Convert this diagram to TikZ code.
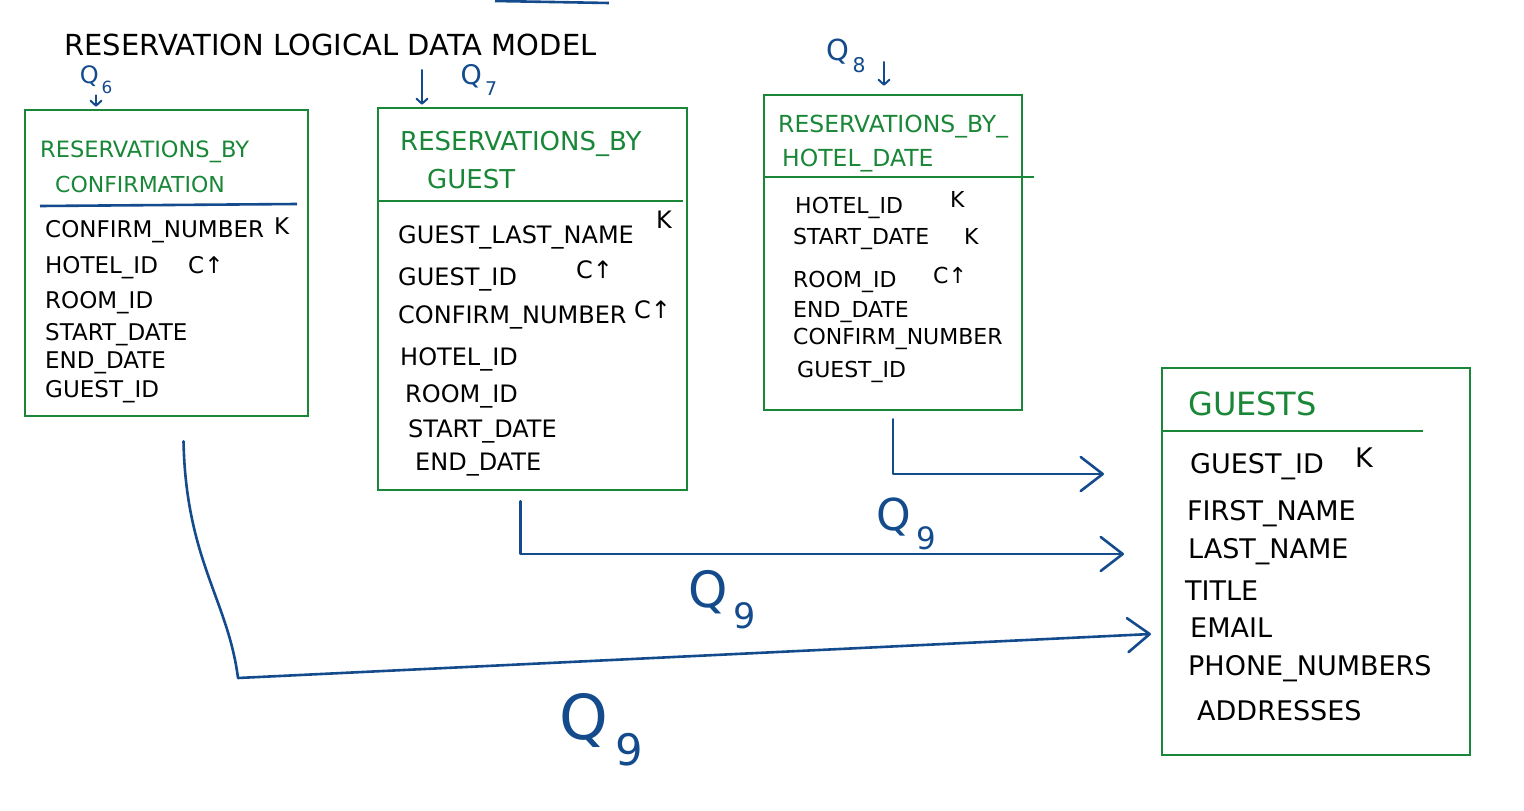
\documentclass[tikz,border=0pt]{standalone}
\usepackage{fontspec}
\setmainfont{DejaVu Sans}
\usepackage{graphicx}
\usetikzlibrary{arrows.meta}
\definecolor{tblgreen}{RGB}{25,135,55}
\definecolor{qblue}{RGB}{20,75,140}
\newcommand{\fsz}[1]{\fontsize{#1}{#1}\selectfont}
\newcommand{\qnum}[1]{Q\kern.12em\raisebox{-.42em}{\scalebox{.7}{#1}}}

\begin{document}
\begin{tikzpicture}[x=1pt, y=-1pt,
		tbl/.style={draw=tblgreen, line width=2.6pt, inner sep=0pt},
		sep/.style={tblgreen, line width=2.6pt},
		ttl/.style={anchor=base west, inner sep=0pt, text=tblgreen},
		row/.style={anchor=base west, inner sep=0pt},
		link/.style={qblue, line width=2.6pt, line cap=round, line join=round, -{Straight Barb[length=22pt, width=34pt, round]}},
		qlbl/.style={text=qblue, inner sep=1pt},
		qdown/.style={qblue, line width=2pt, line cap=round, -{Straight Barb[length=5pt, width=11pt, round]}}]
	\useasboundingbox (0,0) rectangle (1524,811);

	\draw[qblue, line width=2.6pt] (495,1) -- (609,3);
	\node[row, font=\fsz{29}] (heading) at (64,55) {RESERVATION LOGICAL DATA MODEL};

	\node[tbl, minimum width=283pt, minimum height=306pt] (conf) at (166.5,263) {};
	\node[tbl, minimum width=309pt, minimum height=382pt] (byguest) at (532.5,299) {};
	\node[tbl, minimum width=258pt, minimum height=315pt] (byhotel) at (893,252.5) {};
	\node[tbl, minimum width=308pt, minimum height=387pt] (guests) at (1316,561.5) {};

	\node[ttl, font=\fsz{22.5}] (cft1) at (40,157) {RESERVATIONS\_BY};
	\node[ttl, font=\fsz{22}] (cft2) at (55,192) {CONFIRMATION};
	\draw[sep, qblue] (40,206) -- (297,204);
	\node[row, font=\fsz{23}] (cf1) at (45,237) {CONFIRM\_NUMBER};
	\node[row, font=\fsz{23}] (cfk) at (274,234) {K};
	\node[row, font=\fsz{23}] (cf2) at (45,273) {HOTEL\_ID};
	\node[row, font=\fsz{23}] (cfc) at (188,273) {C↑};
	\node[row, font=\fsz{23}] (cf3) at (45,308) {ROOM\_ID};
	\node[row, font=\fsz{23}] (cf4) at (45,340) {START\_DATE};
	\node[row, font=\fsz{23}] (cf5) at (45,368) {END\_DATE};
	\node[row, font=\fsz{23}] (cf6) at (45,397) {GUEST\_ID};

	\node[ttl, font=\fsz{26}] (bgt1) at (400,150) {RESERVATIONS\_BY};
	\node[ttl, font=\fsz{26}] (bgt2) at (427,188) {GUEST};
	\draw[sep] (378,201) -- (683,201);
	\node[row, font=\fsz{24}] (bg1) at (398,243) {GUEST\_LAST\_NAME};
	\node[row, font=\fsz{24}] (bgk) at (656,228) {K};
	\node[row, font=\fsz{24}] (bg2) at (398,285) {GUEST\_ID};
	\node[row, font=\fsz{24}] (bgc1) at (576,278) {C↑};
	\node[row, font=\fsz{24}] (bg3) at (398,323) {CONFIRM\_NUMBER};
	\node[row, font=\fsz{24}] (bgc2) at (634,318) {C↑};
	\node[row, font=\fsz{24}] (bg4) at (400,365) {HOTEL\_ID};
	\node[row, font=\fsz{24}] (bg5) at (405,402) {ROOM\_ID};
	\node[row, font=\fsz{24}] (bg6) at (408,437) {START\_DATE};
	\node[row, font=\fsz{24}] (bg7) at (415,470) {END\_DATE};

	\node[ttl, font=\fsz{23.5}] (bht1) at (778,132) {RESERVATIONS\_BY\_};
	\node[ttl, font=\fsz{23.5}] (bht2) at (782,166) {HOTEL\_DATE};
	\draw[sep] (764,177) -- (1034,177);
	\node[row, font=\fsz{22}] (bh1) at (795,213) {HOTEL\_ID};
	\node[row, font=\fsz{22}] (bhk1) at (950,207) {K};
	\node[row, font=\fsz{22}] (bh2) at (793,244) {START\_DATE};
	\node[row, font=\fsz{22}] (bhk2) at (964,244) {K};
	\node[row, font=\fsz{22}] (bh3) at (793,287) {ROOM\_ID};
	\node[row, font=\fsz{22}] (bhc) at (933,283) {C↑};
	\node[row, font=\fsz{22}] (bh4) at (793,317) {END\_DATE};
	\node[row, font=\fsz{22}] (bh5) at (793,344) {CONFIRM\_NUMBER};
	\node[row, font=\fsz{22}] (bh6) at (797,377) {GUEST\_ID};

	\node[ttl, font=\fsz{32}] (gst) at (1188,415) {GUESTS};
	\draw[sep] (1162,431) -- (1423,431);
	\node[row, font=\fsz{27}] (gs1) at (1190,473) {GUEST\_ID};
	\node[row, font=\fsz{27}] (gsk) at (1355,467) {K};
	\node[row, font=\fsz{27}] (gs2) at (1187,520) {FIRST\_NAME};
	\node[row, font=\fsz{27}] (gs3) at (1188,558) {LAST\_NAME};
	\node[row, font=\fsz{27}] (gs4) at (1185,600) {TITLE};
	\node[row, font=\fsz{27}] (gs5) at (1190,637) {EMAIL};
	\node[row, font=\fsz{27}] (gs6) at (1188,675) {PHONE\_NUMBERS};
	\node[row, font=\fsz{27}] (gs7) at (1197,720) {ADDRESSES};

	\node[qlbl, font=\fsz{24}] (q6) at (96,80) {\qnum{6}};
	\node[qlbl, font=\fsz{27}] (q7) at (479,80) {\qnum{7}};
	\node[qlbl, font=\fsz{29}] (q8) at (846,56) {\qnum{8}};
	\coordinate (q7tail) at (422,70);
	\coordinate (q8tail) at (884,62);
	\draw[qdown] (q6.south) -- ([yshift=2pt]q6.south |- conf.north);
	\draw[qdown] (q7tail) -- ([yshift=2pt]q7tail |- byguest.north);
	\draw[qdown] (q8tail) -- ([yshift=8pt]q8tail |- byhotel.north);

	\coordinate (in1) at (1104,474);
	\coordinate (in2) at (1124,554);
	\coordinate (in3) at (1151,634);
	\draw[link] ([yshift=-8pt]byhotel.south) |- (in1);
	\draw[link] ([xshift=-12pt, yshift=-10pt]byguest.south) |- (in2);
	\draw[link] ([xshift=17pt, yshift=-24pt]conf.south) .. controls (186,560) and (228,600) .. (238,678) -- (in3);

	\node[qlbl, font=\fsz{44}] (q9a) at (906,524) {\qnum{9}};
	\node[qlbl, font=\fsz{50}] (q9b) at (722,600) {\qnum{9}};
	\node[qlbl, font=\fsz{62}] (q9c) at (601,730) {\qnum{9}};
\end{tikzpicture}
\end{document}
